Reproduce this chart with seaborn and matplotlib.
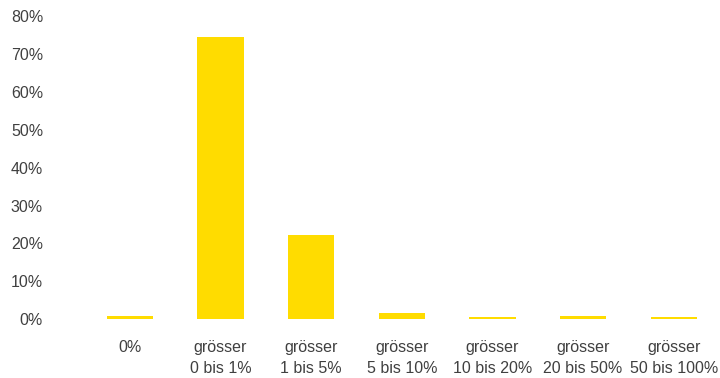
import matplotlib
matplotlib.use("Agg")
import matplotlib.pyplot as plt
import seaborn as sns
import pandas as pd

categories = ["0%", "grösser\n0 bis 1%", "grösser\n1 bis 5%", "grösser\n5 bis 10%",
              "grösser\n10 bis 20%", "grösser\n20 bis 50%", "grösser\n50 bis 100%"]
shares = [0.8, 74.5, 22.2, 1.6, 0.6, 0.9, 0.6]
yticks = [0, 10, 20, 30, 40, 50, 60, 70, 80]

sns.set_theme(style="white")
plt.rcParams["font.family"] = ["Liberation Sans", "DejaVu Sans"]

df = pd.DataFrame({"Kategorie": categories, "Anteil": shares})

fig = plt.figure(figsize=(7.2, 3.78), dpi=100)
ax = fig.add_axes([50 / 720, 58.7 / 378, 669 / 720, 303.3 / 378])

sns.barplot(data=df, x="Kategorie", y="Anteil", color="#FFDC00", saturation=1,
            width=0.51, linewidth=0, ax=ax)

ax.set_xlim(-0.882, 6.5)
ax.set_ylim(0, 80)
ax.set_yticks(yticks)
ax.set_yticklabels([f"{v}%" for v in yticks])
ax.set_xlabel("")
ax.set_ylabel("")
for s in ax.spines.values():
    s.set_visible(False)
ax.tick_params(axis="both", length=0, labelsize=11.5, labelcolor="#404040")
ax.tick_params(axis="x", pad=15)
ax.tick_params(axis="y", pad=5)
for lbl in ax.get_xticklabels():
    lbl.set_linespacing(1.5)

fig.savefig("out.png", dpi=100)
